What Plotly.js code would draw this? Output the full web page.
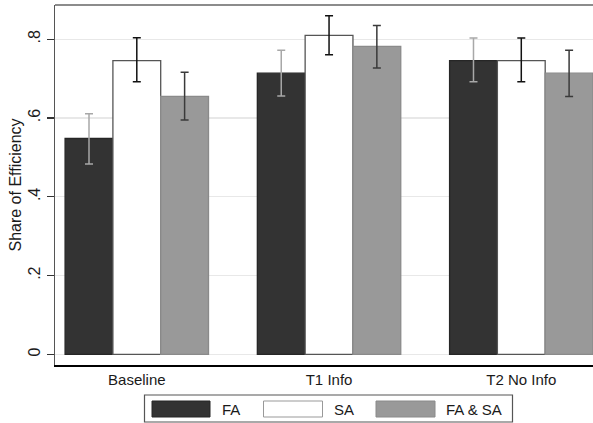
<!DOCTYPE html>
<html>
<head>
<meta charset="utf-8">
<script src="https://cdn.plot.ly/plotly-3.0.1.min.js"></script>
<style>
html,body{margin:0;padding:0;background:#fff;overflow:hidden;}
#chart{width:593px;height:423px;}
</style>
</head>
<body>
<div id="chart"></div>
<script>
// ---- data ----
var categories = ["Baseline", "T1 Info", "T2 No Info"];
var seriesNames = ["FA", "SA", "FA & SA"];

var faValues   = [0.548, 0.714, 0.746];
var faHigh     = [0.611, 0.772, 0.803];
var faLow      = [0.483, 0.656, 0.692];

var saValues   = [0.746, 0.810, 0.746];
var saHigh     = [0.804, 0.860, 0.803];
var saLow      = [0.692, 0.761, 0.692];

var fasaValues = [0.655, 0.782, 0.714];
var fasaHigh   = [0.716, 0.835, 0.772];
var fasaLow    = [0.595, 0.727, 0.655];

var yTickVals  = [0, 0.2, 0.4, 0.6, 0.8];
var yTickText  = ["0", ".2", ".4", ".6", ".8"];

// ---- styling ----
var FONT = "Liberation Sans, Arial, sans-serif";
var W = 593, H = 423;
var M = {l: 55, r: 0, t: 5, b: 58};

function diffs(v, hi, lo) {
  return {
    up: v.map(function (d, i) { return hi[i] - d; }),
    down: v.map(function (d, i) { return d - lo[i]; })
  };
}

function barTrace(name, vals, hi, lo, fill, lineCol, errCol) {
  var d = diffs(vals, hi, lo);
  return {
    type: "bar",
    name: name,
    x: categories,
    y: vals,
    marker: {color: fill, line: {color: lineCol, width: 1.3}},
    error_y: {
      type: "data", symmetric: false,
      array: d.up, arrayminus: d.down,
      color: errCol, thickness: 1.5, width: 4
    },
    showlegend: false,
    hoverinfo: "x+y"
  };
}

var traces = [
  barTrace(seriesNames[0], faValues, faHigh, faLow, "#333333", "#262626", "#a8a8a8"),
  barTrace(seriesNames[1], saValues, saHigh, saLow, "#ffffff", "#555555", "#111111"),
  barTrace(seriesNames[2], fasaValues, fasaHigh, fasaLow, "#999999", "#8a8a8a", "#3a3a3a")
];

// pixel -> paper helpers for the hand-drawn legend
var pw = W - M.l - M.r, ph = H - M.t - M.b;
function px(x) { return (x - M.l) / pw; }
function py(y) { return (H - M.b - y) / ph; }

var shapes = [
  // top frame line
  {type: "line", xref: "paper", yref: "paper", x0: 0, x1: 1, y0: 1, y1: 1,
   line: {color: "#666666", width: 1.5}},
  // legend box
  {type: "rect", xref: "paper", yref: "paper",
   x0: px(144.5), x1: px(512.5), y0: py(422), y1: py(395),
   line: {color: "#555555", width: 1.2}, fillcolor: "rgba(0,0,0,0)"}
];
var swatches = [
  {x0: 152, x1: 210, fill: "#333333", line: "#262626"},
  {x0: 263.5, x1: 322.5, fill: "#ffffff", line: "#999999"},
  {x0: 376, x1: 435, fill: "#999999", line: "#8a8a8a"}
];
var labelX = [220, 332, 444];
var annotations = [];
swatches.forEach(function (s, i) {
  shapes.push({type: "rect", xref: "paper", yref: "paper",
    x0: px(s.x0), x1: px(s.x1), y0: py(417), y1: py(401),
    fillcolor: s.fill, line: {color: s.line, width: 1}});
  annotations.push({xref: "paper", yref: "paper", x: px(labelX[i]), y: py(409),
    xanchor: "left", yanchor: "middle", showarrow: false, text: seriesNames[i],
    font: {family: FONT, size: 15, color: "#1a1a1a"}});
});

var layout = {
  width: W, height: H,
  margin: M,
  paper_bgcolor: "#ffffff",
  plot_bgcolor: "#ffffff",
  barmode: "group",
  bargap: 0.254,
  bargroupgap: 0,
  showlegend: false,
  font: {family: FONT, size: 15, color: "#1a1a1a"},
  xaxis: {
    type: "category",
    range: [-0.4255, 2.373],
    showgrid: false, zeroline: false,
    showline: true, linecolor: "#000000", linewidth: 2.2,
    ticks: "", tickfont: {family: FONT, size: 15, color: "#1a1a1a"},
    fixedrange: true
  },
  yaxis: {
    range: [-0.027, 0.887],
    tickvals: yTickVals, ticktext: yTickText,
    tickangle: -90,
    ticks: "outside", ticklen: 7, tickwidth: 1.2, tickcolor: "#333333",
    tickfont: {family: FONT, size: 16, color: "#1a1a1a"},
    showgrid: true, gridcolor: "#e8e8e8", gridwidth: 1.3,
    zeroline: false,
    showline: true, linecolor: "#555555", linewidth: 1.5,
    title: {text: "Share of Efficiency", font: {family: FONT, size: 16, color: "#1a1a1a"}, standoff: 0},
    fixedrange: true
  },
  shapes: shapes,
  annotations: annotations
};

Plotly.newPlot("chart", traces, layout, {displayModeBar: false, staticPlot: true});
</script>
</body>
</html>
